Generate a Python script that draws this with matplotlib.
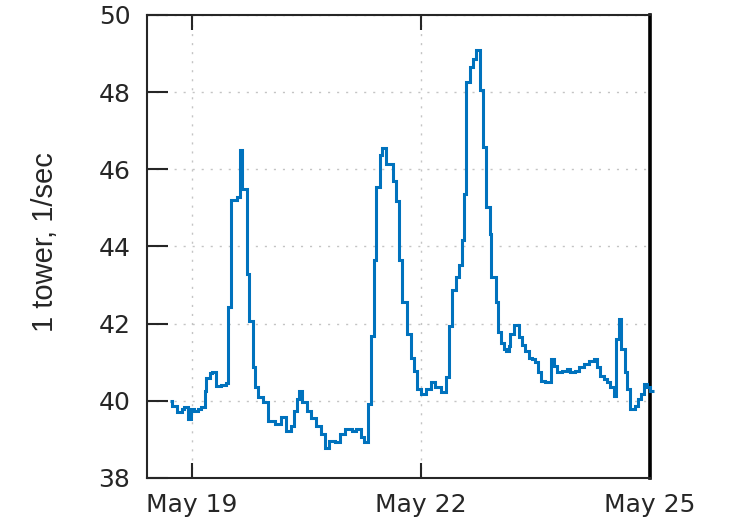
import matplotlib
matplotlib.use("Agg")
import matplotlib.pyplot as plt

# Hourly tower count rate, stored as step segments:
# start of each step (hours after May 18 00:00) and the rate held during it.
step_start_h = [
    17.0, 17.9, 19.2, 20.8, 21.7, 22.7, 23.9, 24.8, 25.8, 27.0,
    28.0, 28.6, 29.6, 30.5, 31.7, 33.3, 34.9, 35.5, 36.4, 38.3,
    39.0, 39.8, 41.3, 42.1, 43.2, 44.0, 44.9, 46.5, 48.1, 50.3,
    52.0, 53.6, 55.2, 56.1, 57.0, 57.8, 58.8, 60.1, 61.4, 63.0,
    64.5, 65.8, 67.2, 69.1, 70.7, 72.2, 74.3, 75.7, 77.1, 78.0,
    79.3, 80.3, 81.3, 81.9, 83.1, 83.9, 85.0, 87.1, 88.1, 89.2,
    90.2, 91.8, 92.8, 93.9, 94.7, 96.0, 97.6, 99.1, 100.6, 102.2,
    103.8, 104.9, 105.9, 107.0, 108.0, 108.8, 109.6, 110.3, 111.4, 112.4,
    113.4, 114.5, 115.5, 116.5, 117.6, 118.2, 119.5, 120.3, 121.2, 122.1,
    122.8, 123.7, 124.2, 125.2, 126.8, 127.8, 128.9, 129.9, 130.9, 132.0,
    133.0, 133.9, 135.1, 136.8, 137.8, 138.8, 140.4, 142.0, 143.0, 144.6,
    145.6, 147.2, 148.8, 150.3, 151.4, 152.4, 153.5, 154.5, 155.6, 156.6,
    157.3, 158.2, 159.0, 160.1, 160.8, 161.9, 163.4, 164.3, 165.3, 166.1,
    167.1, 168.1,
]
series_end_h = 169.2

rate = [
    40.00, 39.87, 39.70, 39.80, 39.83, 39.53, 39.80, 39.74, 39.80, 39.83,
    40.26, 40.60, 40.72, 40.74, 40.39, 40.42, 40.46, 42.42, 45.20, 45.28,
    46.51, 45.50, 43.29, 42.08, 40.87, 40.35, 40.09, 39.96, 39.48, 39.39,
    39.57, 39.22, 39.35, 39.74, 40.05, 40.26, 39.96, 39.74, 39.55, 39.35,
    39.13, 38.79, 38.96, 38.92, 39.15, 39.26, 39.22, 39.26, 39.05, 38.92,
    39.91, 41.69, 43.66, 45.54, 46.36, 46.54, 46.15, 45.71, 45.19, 43.64,
    42.55, 41.73, 41.12, 40.78, 40.30, 40.17, 40.30, 40.48, 40.35, 40.22,
    40.61, 41.95, 42.86, 43.20, 43.51, 44.16, 45.37, 48.27, 48.66, 48.85,
    49.09, 48.05, 46.58, 45.02, 44.33, 43.20, 42.55, 41.78, 41.51, 41.34,
    41.30, 41.43, 41.73, 41.97, 41.66, 41.45, 41.30, 41.12, 41.08, 41.00,
    40.74, 40.52, 40.48, 41.08, 40.91, 40.74, 40.78, 40.82, 40.74, 40.78,
    40.87, 40.95, 41.04, 41.08, 40.87, 40.65, 40.56, 40.48, 40.35, 40.13,
    41.60, 42.12, 41.34, 40.74, 40.30, 39.78, 39.87, 40.04, 40.17, 40.43,
    40.35, 40.26,
]

# Date axis: tick positions in hours after May 18 00:00
date_tick_h = [24, 96, 168]
date_tick_labels = ["May 19", "May 22", "May 25"]
rate_ticks = [38, 40, 42, 44, 46, 48, 50]

x_range_h = (9.9, 168.0)
y_range = (38, 50)

line_color = "#0072BD"
text_color = "#262626"

fig = plt.figure(figsize=(7.33, 5.22), dpi=100)
ax = fig.add_axes([0.2005, 0.0843, 0.686, 0.887])

edges = step_start_h + [series_end_h]
ax.stairs(rate, edges, baseline=None, color=line_color, linewidth=2.2,
          clip_on=False, zorder=3)

ax.set_xlim(*x_range_h)
ax.set_ylim(*y_range)
ax.set_xticks(date_tick_h)
ax.set_xticklabels(date_tick_labels)
ax.set_yticks(rate_ticks)

ax.grid(True, linestyle=(0, (1.5, 5)), color="#c4c4c4", linewidth=1.0, zorder=0)

ax.tick_params(axis="x", direction="in", length=11, width=1.5, top=True,
               bottom=True, labelsize=18, labelcolor=text_color, pad=11,
               color=text_color)
ax.tick_params(axis="y", direction="in", length=15, width=1.5, left=True,
               right=False, labelsize=18, labelcolor=text_color, pad=12,
               color=text_color)
for lab in ax.get_xticklabels() + ax.get_yticklabels():
    lab.set_family("DejaVu Sans")

for side in ("left", "bottom", "top"):
    ax.spines[side].set_color(text_color)
    ax.spines[side].set_linewidth(1.5)
ax.spines["right"].set_color("black")
ax.spines["right"].set_linewidth(2.6)

ax.set_ylabel("1 tower, 1/sec", fontsize=21, color=text_color,
              family="Liberation Sans")
ax.yaxis.label.set_verticalalignment("center")
ax.yaxis.set_label_coords(-0.203, 0.51)

fig.savefig("out.png", dpi=100)
